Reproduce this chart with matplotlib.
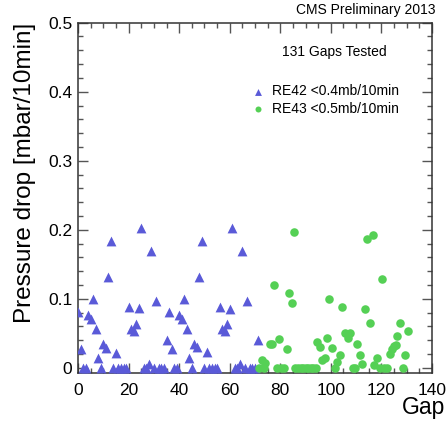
import matplotlib
matplotlib.use("Agg")
import matplotlib.pyplot as plt
from matplotlib.ticker import MultipleLocator

plt.rcParams['font.family'] = ['Liberation Sans', 'DejaVu Sans']

# RE42 chambers: gap number and pressure drop
re42_gap = list(range(0, 72))
re42_drop = [0.081, 0.027, 0.0, 0.0, 0.076, 0.071, 0.099, 0.056, 0.014, 0.0,
             0.034, 0.029, 0.131, 0.183, 0.0, 0.022, 0.0, 0.0, 0.0, 0.0,
             0.088, 0.056, 0.053, 0.064, 0.086, 0.202, 0.0, 0.0, 0.006, 0.169,
             0.0, 0.097, 0.0, 0.0, 0.0, 0.040,
             0.081, 0.027, 0.0, 0.0, 0.076, 0.071, 0.099, 0.056, 0.014, 0.0,
             0.034, 0.030, 0.132, 0.183, 0.0, 0.023, 0.0, 0.0, 0.0, 0.0,
             0.088, 0.056, 0.053, 0.064, 0.085, 0.202, 0.0, 0.0, 0.006, 0.169,
             0.0, 0.097, 0.0, 0.0, 0.0, 0.040]

# RE43 chambers
re43_gap = [71.4, 72.8, 73.4, 74.0, 76.0, 76.7, 77.5, 78.6, 79.6, 80.2,
            81.3, 82.5, 83.6, 84.6, 85.4, 86.0, 87.0, 88.0, 89.0, 90.0,
            91.0, 92.0, 93.0, 94.0, 94.7, 95.7, 96.4, 97.7, 98.5, 99.4,
            100.6, 101.5, 102.5, 103.5, 104.4, 105.7, 106.6, 107.4, 108.7, 109.6,
            110.4, 111.5, 112.5, 113.5, 114.3, 115.4, 116.5, 117.2, 118.4, 119.4,
            120.4, 121.2, 122.4, 123.2, 124.2, 125.0, 125.8, 126.3, 127.5, 128.5,
            129.3, 130.5]
re43_drop = [0.0, 0.012, 0.0, 0.007, 0.035, 0.035, 0.120, 0.0, 0.042, 0.0,
             0.0, 0.027, 0.108, 0.094, 0.197, 0.0, 0.0, 0.0, 0.0, 0.0,
             0.0, 0.0, 0.0, 0.0, 0.038, 0.030, 0.012, 0.014, 0.043, 0.100,
             0.028, 0.0, 0.008, 0.019, 0.088, 0.051, 0.043, 0.051, 0.0, 0.0,
             0.034, 0.018, 0.006, 0.085, 0.187, 0.065, 0.192, 0.004, 0.014, 0.0,
             0.129, 0.0, 0.0, 0.020, 0.027, 0.031, 0.033, 0.046, 0.065, 0.0,
             0.019, 0.053]

blue = '#5a5ad8'
green = '#55d055'

fig = plt.figure(figsize=(4.46, 4.25), dpi=100)
ax = fig.add_axes([0.1749, 0.1224, 0.7937, 0.8242])

ax.scatter(re42_gap, re42_drop, marker='^', s=50, color=blue, linewidths=0,
           label='RE42 <0.4mb/10min', zorder=3)
ax.scatter(re43_gap, re43_drop, marker='o', s=38, color=green, linewidths=0,
           label='RE43 <0.5mb/10min', zorder=3)

ax.set_xlim(0, 140)
ax.set_ylim(-0.0075, 0.5)

ax.xaxis.set_major_locator(MultipleLocator(20))
ax.xaxis.set_minor_locator(MultipleLocator(5))
ax.yaxis.set_major_locator(MultipleLocator(0.1))
ax.yaxis.set_minor_locator(MultipleLocator(0.02))
ax.set_yticks([0, 0.1, 0.2, 0.3, 0.4, 0.5])
ax.set_yticklabels(['0', '0.1', '0.2', '0.3', '0.4', '0.5'])

ax.tick_params(which='both', direction='in', top=True, right=True,
               color='#555555', width=1.0)
ax.tick_params(which='major', length=7.5, labelsize=12.5)
ax.tick_params(which='minor', length=3.8)
ax.tick_params(axis='x', pad=7)
ax.tick_params(axis='y', pad=4)
for sp in ax.spines.values():
    sp.set_linewidth(1.1)
    sp.set_color('#333333')

ax.set_ylabel('Pressure drop [mbar/10min]', fontsize=17.5, loc='top')
ax.yaxis.set_label_coords(-0.12, 1.0)
ax.set_xlabel('Gap', fontsize=16.5, loc='right')
ax.xaxis.set_label_coords(1.037, -0.066)

fig.text(0.977, 0.977, 'CMS Preliminary 2013', ha='right', va='center', fontsize=10)
ax.text(0.725, 0.915, '131 Gaps Tested', transform=ax.transAxes,
        ha='center', va='center', fontsize=10)

ax.legend(loc='upper left', bbox_to_anchor=(0.47, 0.84), frameon=False,
          fontsize=10, markerscale=0.7, handletextpad=0.4, labelspacing=0.25,
          handlelength=1.2, borderaxespad=0)

fig.savefig('out.png', dpi=100)
